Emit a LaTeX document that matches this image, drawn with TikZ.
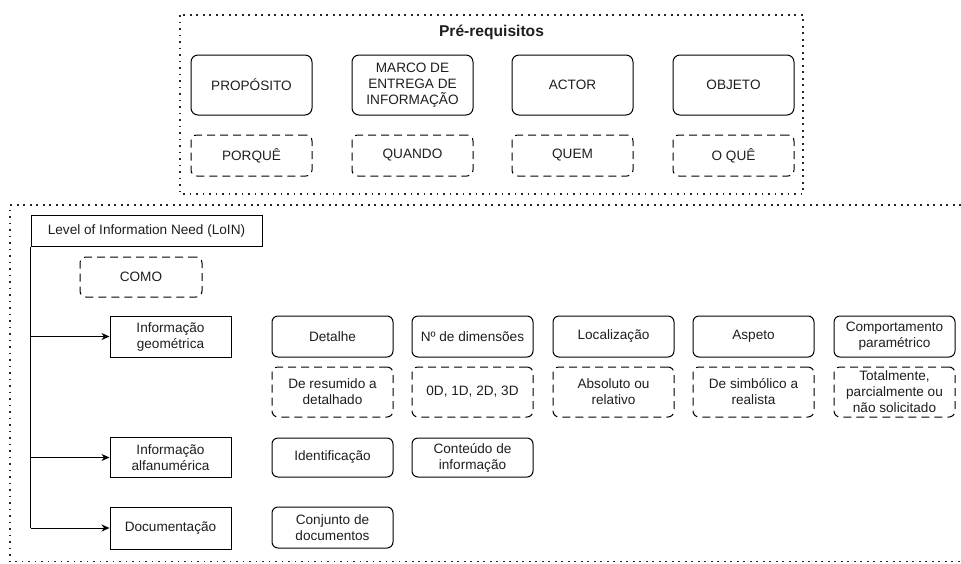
\documentclass[tikz,border=0pt]{standalone}
\usepackage{fontspec}
\setmainfont{Liberation Sans}
\usetikzlibrary{arrows.meta}
\definecolor{ink}{HTML}{1E1E1E}
\tikzset{
  basebox/.style={draw=black, line width=1pt, inner sep=0pt, align=center,
    text=ink, font=\fontsize{13.6}{16}\selectfont, minimum width=121pt},
  roundbox/.style={basebox, rounded corners=6pt},
  bigbox/.style={roundbox, rounded corners=7pt, minimum height=60pt},
  dashbox/.style={roundbox, dash pattern=on 8pt off 5pt},
  plainbox/.style={basebox},
  dotframe/.style={draw=black!85, line width=1.6pt, dash pattern=on 1.6pt off 4.9pt},
  feed/.style={draw=black, line width=1pt, -{Stealth[length=8pt,width=7pt,inset=2.5pt]}},
  trunk/.style={draw=black, line width=1pt},
}
\begin{document}
\begin{tikzpicture}[x=1pt, y=-1pt]
\useasboundingbox (0,0) rectangle (961,563);

% prerequisites frame
\draw[dotframe] (180,15) rectangle (803,194);
\node[anchor=base, text=ink, font=\fontsize{15.6}{18}\selectfont\bfseries] (pretitle) at (491.5,36) {Pré-requisitos};

\node[bigbox] (prop)   at (251.5,85) {PROPÓSITO};
\node[bigbox] (marco)  at (412.5,85) {MARCO DE\\ENTREGA DE\\INFORMAÇÃO};
\node[bigbox] (actor)  at (572.5,85) {ACTOR};
\node[bigbox] (objeto) at (733.5,85) {OBJETO};

\node[dashbox, minimum height=41pt] (porque) at (251.5,155.5) {PORQUÊ};
\node[dashbox, minimum height=41pt] (quando) at (412.5,155.5) {QUANDO};
\node[dashbox, minimum height=41pt] (quem)   at (572.5,155.5) {QUEM};
\node[dashbox, minimum height=41pt] (oque)   at (733.5,155.5) {O QUÊ};

% level of information need frame
\draw[dotframe] (961,205) -- (10,205) -- (10,561.6) -- (961,561.6);

\node[plainbox, minimum width=231pt, minimum height=31pt] (loin) at (146.5,230.5) {Level of Information Need (LoIN)};
\node[dashbox, minimum width=122pt, minimum height=40pt] (como) at (141,277) {COMO};

\node[plainbox, minimum height=41pt] (geo)  at (170.5,336.5) {Informação\\geométrica};
\node[plainbox, minimum height=40pt] (alfa) at (170.5,457.5) {Informação\\alfanumérica};
\node[plainbox, minimum height=42pt] (doc)  at (170.5,528)   {Documentação};

% geometric information
\node[roundbox, minimum height=41pt] (detalhe) at (332.5,336.5) {Detalhe};
\node[roundbox, minimum height=41pt] (dim)     at (472.5,336.5) {Nº de dimensões};
\node[roundbox, minimum height=41pt] (local)   at (613.5,336.5) {Localização};
\node[roundbox, minimum height=41pt] (aspeto)  at (753.5,336.5) {Aspeto};
\node[roundbox, minimum height=41pt] (comport) at (894.5,336.5) {Comportamento\\paramétrico};

\node[dashbox, minimum height=50pt] (detalheval) at (332.5,392) {De resumido a\\detalhado};
\node[dashbox, minimum height=50pt] (dimval)     at (472.5,392) {0D, 1D, 2D, 3D};
\node[dashbox, minimum height=50pt] (localval)   at (613.5,392) {Absoluto ou\\relativo};
\node[dashbox, minimum height=50pt] (aspetoval)  at (753.5,392) {De simbólico a\\realista};
\node[dashbox, minimum height=50pt] (comportval) at (894.5,392) {Totalmente,\\parcialmente ou\\não solicitado};

% alphanumeric information and documentation
\node[roundbox, minimum height=39pt] (ident)    at (332.5,457.5) {Identificação};
\node[roundbox, minimum height=39pt] (conteudo) at (472.5,457.5) {Conteúdo de\\informação};
\node[roundbox, minimum height=41pt] (conjunto) at (332.5,527.5) {Conjunto de\\documentos};

% tree connectors
\coordinate (trunkend) at (loin.south west |- doc.west);
\draw[trunk] (loin.south west) -- (trunkend);
\draw[feed] (loin.south west |- geo.west) -- (geo.west);
\draw[feed] (loin.south west |- alfa.west) -- (alfa.west);
\draw[feed] (trunkend) -- (doc.west);
\end{tikzpicture}
\end{document}
